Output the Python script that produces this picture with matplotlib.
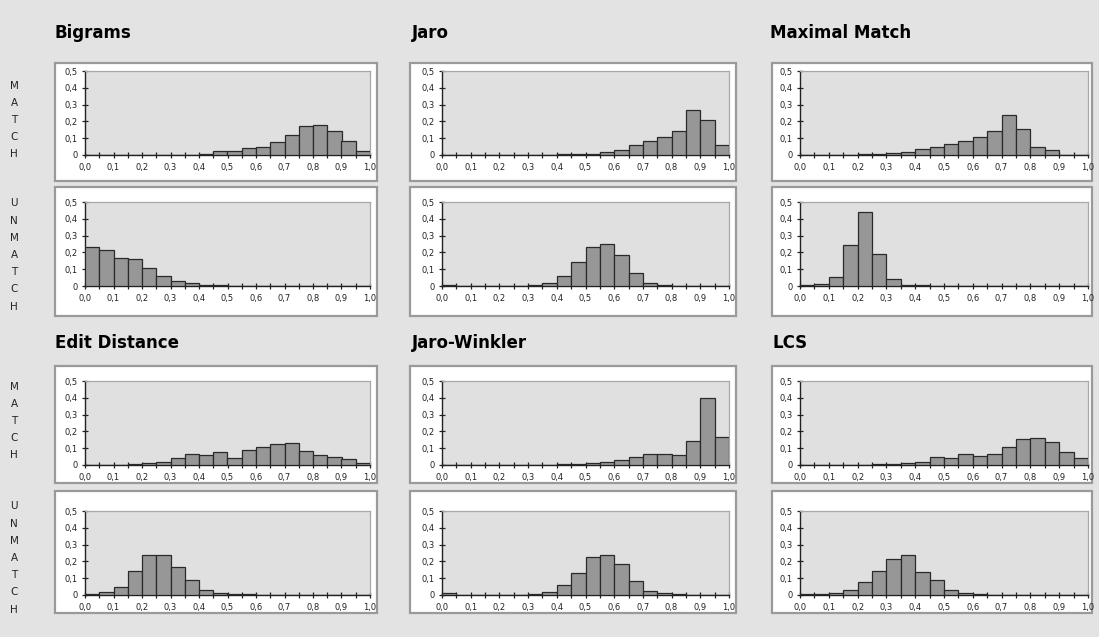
import numpy as np
import matplotlib.pyplot as plt
from matplotlib.patches import Rectangle
from matplotlib.ticker import FuncFormatter, MultipleLocator

W, H = 1099, 637

# similarity score bins (0,00-0,05 ... 0,95-1,00)
bin_edges = np.linspace(0.0, 1.0, 21)

titles = ["Bigrams", "Jaro", "Maximal Match", "Edit Distance", "Jaro-Winkler", "LCS"]

bigrams_match = [0.002, 0.002, 0.002, 0.002, 0.002, 0.002, 0.002, 0.002, 0.005, 0.025,
                 0.025, 0.04, 0.05, 0.075, 0.12, 0.175, 0.18, 0.145, 0.085, 0.025]
bigrams_unmatch = [0.235, 0.215, 0.165, 0.16, 0.11, 0.06, 0.03, 0.015, 0.005, 0.005,
                   0, 0, 0, 0, 0, 0, 0, 0, 0, 0]
jaro_match = [0, 0, 0, 0, 0, 0, 0, 0, 0.005, 0.005,
              0.005, 0.02, 0.03, 0.06, 0.085, 0.105, 0.14, 0.27, 0.21, 0.06]
jaro_unmatch = [0.005, 0, 0, 0, 0, 0, 0.005, 0.02, 0.06, 0.14,
                0.235, 0.25, 0.185, 0.08, 0.02, 0.005, 0, 0, 0, 0]
maxmatch_match = [0, 0, 0, 0, 0.003, 0.005, 0.01, 0.02, 0.035, 0.05,
                  0.065, 0.085, 0.105, 0.14, 0.24, 0.155, 0.05, 0.03, 0, 0]
maxmatch_unmatch = [0.003, 0.01, 0.055, 0.245, 0.44, 0.19, 0.04, 0.005, 0.005, 0,
                    0, 0, 0, 0, 0, 0, 0, 0, 0, 0]
edit_match = [0, 0, 0, 0.005, 0.01, 0.02, 0.04, 0.065, 0.06, 0.075,
              0.04, 0.09, 0.105, 0.125, 0.13, 0.085, 0.06, 0.045, 0.035, 0.01]
edit_unmatch = [0.005, 0.02, 0.045, 0.14, 0.24, 0.24, 0.165, 0.09, 0.03, 0.01,
                0.005, 0.005, 0, 0, 0, 0, 0, 0, 0, 0]
jw_match = [0, 0, 0, 0, 0, 0, 0, 0, 0.003, 0.005,
            0.01, 0.015, 0.03, 0.05, 0.065, 0.065, 0.06, 0.14, 0.4, 0.165]
jw_unmatch = [0.01, 0, 0, 0, 0, 0, 0.008, 0.02, 0.06, 0.13,
              0.225, 0.24, 0.185, 0.085, 0.025, 0.01, 0.003, 0, 0, 0]
lcs_match = [0, 0, 0, 0, 0, 0.005, 0.005, 0.01, 0.015, 0.05,
             0.04, 0.065, 0.055, 0.065, 0.105, 0.155, 0.16, 0.135, 0.075, 0.04]
lcs_unmatch = [0.005, 0.005, 0.01, 0.03, 0.08, 0.14, 0.215, 0.24, 0.135, 0.09,
               0.03, 0.01, 0.005, 0, 0, 0, 0, 0, 0, 0]

match_data = [bigrams_match, jaro_match, maxmatch_match, edit_match, jw_match, lcs_match]
unmatch_data = [bigrams_unmatch, jaro_unmatch, maxmatch_unmatch,
                edit_unmatch, jw_unmatch, lcs_unmatch]

# pixel layout
col_box_x = [(55, 377), (410, 736), (772, 1092)]
col_ax_x = [(85, 370), (442, 729), (800, 1088)]
row_box_y = [(63, 181), (187, 316), (366, 483), (491, 613)]
row_ax_y = [(71, 155), (202, 286), (381, 465), (511, 595)]
title_pos = [(55, 33), (412, 33), (770, 33), (55, 343), (412, 343), (772, 343)]
side_y = [120, 255, 421, 558]


def fx(x):
    return x / W


def fy(y):
    return 1 - y / H


fig = plt.figure(figsize=(W / 100, H / 100), dpi=100)
fig.patch.set_facecolor("#e3e3e3")

x_fmt = FuncFormatter(lambda v, p: f"{v:.1f}".replace(".", ","))
y_fmt = FuncFormatter(lambda v, p: "0" if abs(v) < 1e-9 else f"{v:.1f}".replace(".", ","))

for i, title in enumerate(titles):
    col = i % 3
    grp = i // 3
    tx, ty = title_pos[i]
    fig.text(fx(tx), fy(ty), title, fontsize=12, fontweight="bold", va="center", ha="left")
    for k, vals in enumerate([match_data[i], unmatch_data[i]]):
        r = grp * 2 + k
        bx0, bx1 = col_box_x[col]
        by0, by1 = row_box_y[r]
        fig.add_artist(Rectangle((fx(bx0), fy(by1)), fx(bx1 - bx0), (by1 - by0) / H,
                                 transform=fig.transFigure, facecolor="white",
                                 edgecolor="#9a9a9a", linewidth=1.6, zorder=0))
        ax0, ax1 = col_ax_x[col]
        ay0, ay1 = row_ax_y[r]
        ax = fig.add_axes([fx(ax0), fy(ay1), fx(ax1 - ax0), (ay1 - ay0) / H])
        ax.set_facecolor("#e0e0e0")
        ax.bar(bin_edges[:-1], vals, width=0.05, align="edge", color="#979797",
               edgecolor="#2a2a2a", linewidth=0.9, zorder=3)
        ax.set_xlim(0, 1)
        ax.set_ylim(0, 0.5)
        ax.xaxis.set_major_locator(MultipleLocator(0.1))
        ax.xaxis.set_minor_locator(MultipleLocator(0.05))
        ax.yaxis.set_major_locator(MultipleLocator(0.1))
        ax.xaxis.set_major_formatter(x_fmt)
        ax.yaxis.set_major_formatter(y_fmt)
        ax.tick_params(which="both", direction="inout", length=5, width=0.9,
                       labelsize=6, colors="#222222", pad=3)
        ax.tick_params(which="minor", length=5)
        for s in ["top", "right"]:
            ax.spines[s].set_color("#a8a8a8")
            ax.spines[s].set_linewidth(0.9)
        for s in ["left", "bottom"]:
            ax.spines[s].set_color("#222222")
            ax.spines[s].set_linewidth(1.0)

for r in range(4):
    label = "MATCH" if r % 2 == 0 else "UNMATCH"
    fig.text(fx(14), fy(side_y[r]), "\n".join(label), fontsize=7.5, ha="center",
             va="center", linespacing=1.9, color="#222222")

fig.savefig("out.png", dpi=100, facecolor=fig.get_facecolor())
